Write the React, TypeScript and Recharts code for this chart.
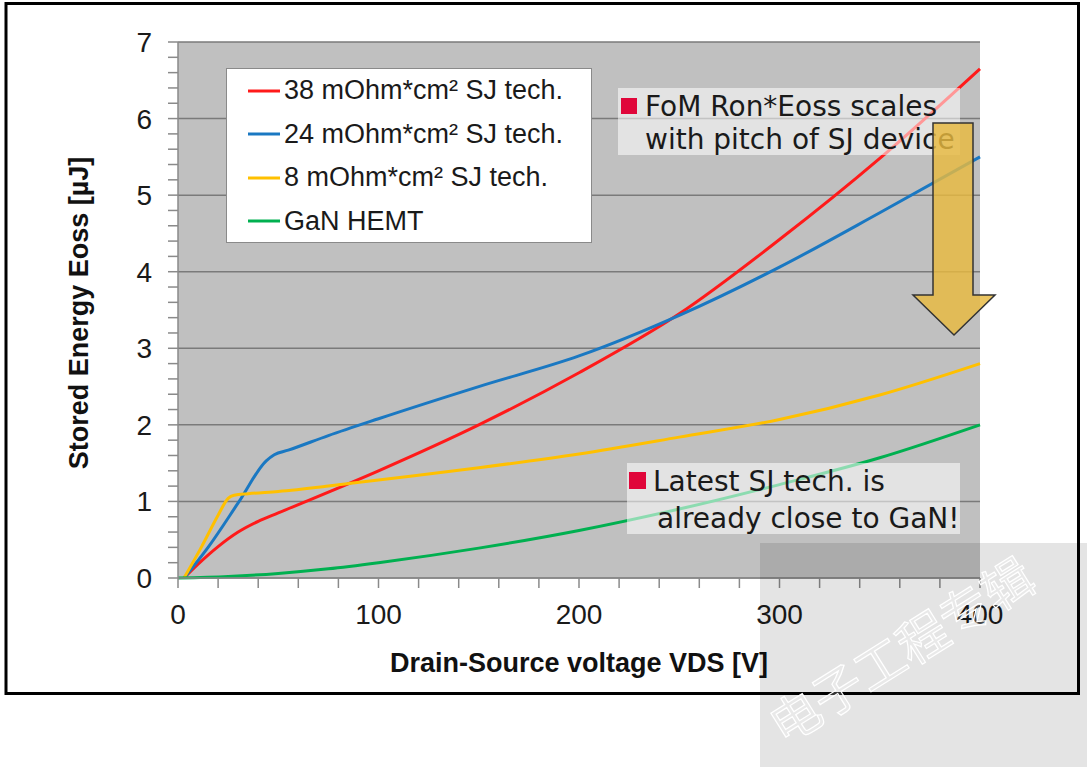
import React from 'react';
import { LineChart, Line, XAxis, YAxis, CartesianGrid, Legend, ReferenceLine } from 'recharts';

// ---- data ----
const xTicks = [0, 20, 40, 60, 80, 100, 120, 140, 160, 180, 200, 220, 240, 260, 280, 300, 320, 340, 360, 380, 400];
const xLabelTicks = [0, 100, 200, 300, 400];
const yTicks = [0, 0.2, 0.4, 0.6, 0.8, 1, 1.2, 1.4, 1.6, 1.8, 2, 2.2, 2.4, 2.6, 2.8, 3, 3.2, 3.4, 3.6, 3.8, 4, 4.2, 4.4, 4.6, 4.8, 5, 5.2, 5.4, 5.6, 5.8, 6, 6.2, 6.4, 6.6, 6.8, 7];
const yLabelTicks = [0, 1, 2, 3, 4, 5, 6, 7];

const sj38V = [3, 10, 20, 30, 40, 50, 100, 150, 200, 250, 300, 350, 400];
const sj38E = [0, 0.18, 0.41, 0.6, 0.74, 0.85, 1.4, 2.0, 2.68, 3.45, 4.42, 5.48, 6.65];

const sj24V = [3, 15, 30, 44, 48, 55, 75, 100, 150, 200, 250, 300, 350, 400];
const sj24E = [0, 0.4, 0.98, 1.53, 1.61, 1.67, 1.86, 2.08, 2.5, 2.9, 3.43, 4.06, 4.77, 5.5];

const sj8V = [3, 12, 20, 25, 28, 35, 50, 75, 100, 150, 200, 250, 300, 350, 400];
const sj8E = [0, 0.42, 0.82, 1.04, 1.08, 1.1, 1.13, 1.2, 1.28, 1.44, 1.62, 1.84, 2.07, 2.39, 2.8];

const ganV = [0, 25, 50, 75, 100, 150, 200, 250, 300, 350, 400];
const ganE = [0, 0.02, 0.06, 0.12, 0.2, 0.39, 0.62, 0.9, 1.22, 1.57, 2.0];

const seriesNames = ['38 mOhm*cm² SJ tech.', '24 mOhm*cm² SJ tech.', '8 mOhm*cm² SJ tech.', 'GaN HEMT'];
const seriesColors = ['#ff1a1a', '#1a78c2', '#ffc000', '#00b050'];

const toData = (xs: number[], ys: number[]) => xs.map((x, i) => ({ v: x, e: ys[i] }));
const seriesData = [toData(sj38V, sj38E), toData(sj24V, sj24E), toData(sj8V, sj8E), toData(ganV, ganE)];

const isMajor = (v: number, list: number[]) => list.some((t) => Math.abs(t - v) < 1e-6);

const LegendBox = (props: any) => {
  const payload = [...(props.payload || [])].sort(
    (a: any, b: any) => seriesNames.indexOf(a.value) - seriesNames.indexOf(b.value)
  );
  return (
    <div
      style={{
        width: 366,
        height: 175,
        boxSizing: 'border-box',
        background: '#ffffff',
        border: '1px solid #8a8a8a',
        paddingTop: 0,
        paddingLeft: 21,
        fontFamily: '"Liberation Sans", Arial, sans-serif',
        fontSize: 27,
        color: '#1a1a1a',
      }}
    >
      {payload.map((p: any, i: number) => (
        <div key={i} style={{ height: 43.5, display: 'flex', alignItems: 'center', whiteSpace: 'nowrap' }}>
          <svg width={34} height={10} style={{ marginRight: 2, flex: 'none' }}>
            <line x1={0} y1={5} x2={32} y2={5} stroke={p.color} strokeWidth={3} />
          </svg>
          <span>{p.value}</span>
        </div>
      ))}
    </div>
  );
};

export default function App() {
  return (
    <div style={{ position: 'absolute', left: 0, top: 0, width: 1087, height: 767, background: '#ffffff', overflow: 'hidden' }}>
      <div style={{ position: 'absolute', left: 0, top: 0 }}>
        <LineChart width={1087} height={767} margin={{ top: 42, right: 107, bottom: 129, left: 0 }}>
          <CartesianGrid vertical={false} horizontal={false} fill="#c0c0c0" fillOpacity={1} />
          {yLabelTicks.map((t) => (
            <ReferenceLine key={'g' + t} y={t} stroke="#7a7a7a" strokeWidth={1.5} />
          ))}
          <XAxis
            type="number"
            dataKey="v"
            domain={[0, 400]}
            ticks={xTicks}
            interval={0}
            height={60}
            tickSize={10}
            tickMargin={16}
            stroke="#8a8a8a"
            strokeWidth={1.5}
            tick={{ fill: '#1a1a1a', fontSize: 28, fontFamily: '"Liberation Sans", Arial, sans-serif' }}
            tickFormatter={(v: number) => (isMajor(v, xLabelTicks) ? String(v) : '')}
            allowDuplicatedCategory={false}
          />
          <YAxis
            type="number"
            domain={[0, 7]}
            ticks={yTicks}
            interval={0}
            width={178}
            tickSize={10}
            tickMargin={16}
            stroke="#8a8a8a"
            strokeWidth={1.5}
            tick={{ fill: '#1a1a1a', fontSize: 28, fontFamily: '"Liberation Sans", Arial, sans-serif' }}
            tickFormatter={(v: number) => (isMajor(v, yLabelTicks) ? String(Math.round(v)) : '')}
          />
          <Legend
            layout="vertical"
            align="center"
            verticalAlign="middle"
            wrapperStyle={{ left: 226, top: 68, width: 366, height: 175 }}
            content={<LegendBox />}
          />
          {seriesData.map((d, i) => (
            <Line
              key={seriesNames[i]}
              data={d}
              dataKey="e"
              name={seriesNames[i]}
              type="monotone"
              stroke={seriesColors[i]}
              strokeWidth={3}
              dot={false}
              activeDot={false}
              isAnimationActive={false}
            />
          ))}
        </LineChart>
      </div>
      <svg width={1087} height={767} style={{ position: 'absolute', left: 0, top: 0, pointerEvents: 'none' }}>
        {/* axis titles */}
        <text
          x={579}
          y={672}
          textAnchor="middle"
          fontFamily='"Liberation Sans", Arial, sans-serif'
          fontWeight="bold"
          fontSize={27}
          fill="#111"
        >
          Drain-Source voltage VDS [V]
        </text>
        <text
          transform="translate(88 313) rotate(-90)"
          textAnchor="middle"
          fontFamily='"Liberation Sans", Arial, sans-serif'
          fontWeight="bold"
          fontSize={27}
          fill="#111"
        >
          Stored Energy Eoss [µJ]
        </text>

        {/* annotation 1 */}
        <rect x={618} y={88} width={342} height={67} fill="rgba(255,255,255,0.55)" />
        <rect x={621} y={98} width={16} height={16} fill="#e0063a" />
        <text x={645} y={116} fontFamily='"DejaVu Sans", Verdana, sans-serif' fontSize={28} fill="#1a1a1a">
          FoM Ron*Eoss scales
        </text>
        <text x={645} y={149} fontFamily='"DejaVu Sans", Verdana, sans-serif' fontSize={28} fill="#1a1a1a">
          with pitch of SJ device
        </text>

        {/* arrow */}
        <polygon
          points="933,123 973,123 973,295 995,295 954,335 913,295 933,295"
          fill="rgba(232,186,64,0.82)"
          stroke="#333"
          strokeWidth={1.5}
        />

        {/* annotation 2 */}
        <rect x={627} y={463} width={333} height={71} fill="rgba(255,255,255,0.55)" />
        <rect x={629} y={472} width={17} height={17} fill="#e0063a" />
        <text x={653} y={491} fontFamily='"DejaVu Sans", Verdana, sans-serif' fontSize={28} fill="#1a1a1a">
          Latest SJ tech. is
        </text>
        <text x={657} y={528} fontFamily='"DejaVu Sans", Verdana, sans-serif' fontSize={28} fill="#1a1a1a">
          already close to GaN!
        </text>

        {/* outer frame */}
        <rect x={6} y={3.5} width={1072.5} height={690} fill="none" stroke="#000" strokeWidth={3} />

        {/* watermark */}
        <rect x={760} y={543} width={327} height={224} fill="rgba(0,0,0,0.105)" />
        <text
          transform="translate(784 746) rotate(-32)"
          fontFamily='"Noto Sans CJK SC", sans-serif'
          fontSize={50}
          fill="rgba(255,255,255,0.2)"
          stroke="#ffffff"
          strokeWidth={1.2}
        >
          电子工程专辑
        </text>
      </svg>
    </div>
  );
}
